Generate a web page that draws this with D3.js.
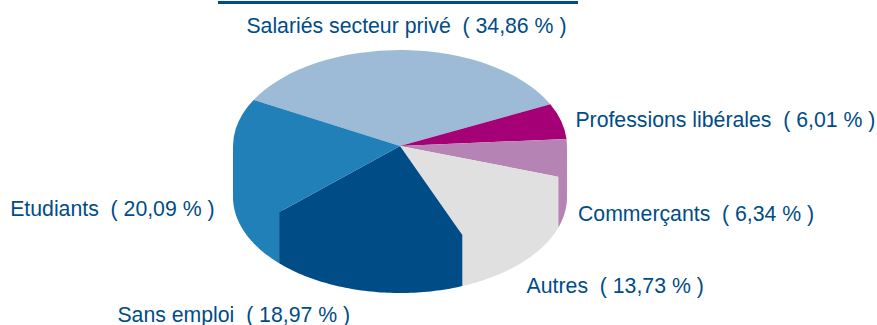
<!DOCTYPE html>
<html>
<head>
<meta charset="utf-8">
<script src="https://cdn.jsdelivr.net/npm/d3@7"></script>
<style>
  html, body { margin: 0; padding: 0; background: #fff; }
  svg { display: block; }
  .label { font-family: "Liberation Sans", Arial, sans-serif; font-size: 21.25px; fill: #004c87; white-space: pre; }
</style>
</head>
<body>
<svg id="chart"></svg>
<script>
const categories = ["Salariés secteur privé", "Professions libérales", "Commerçants", "Autres", "Sans emploi", "Etudiants"];
const shares = [34.86, 6.01, 6.34, 13.73, 18.97, 20.09];
const shareLabels = ["34,86", "6,01", "6,34", "13,73", "18,97", "20,09"];
const colors = ["#9dbbd7", "#a50075", "#b683b5", "#e0e0e0", "#004c87", "#2180b7"];

const svgWidth = 877;
const svgHeight = 325;
const cx = 400, cy = 146;    // centre of the top ellipse
const rx = 167, ry = 96;     // ellipse radii
const depth = 51;            // height of the wall
const firstAngle = -61.3 * Math.PI / 180; // first slice starts upper left

// Label anchors, same order as categories
const labelX = [246.4, 575.4, 578, 526.6, 117.4, 10.2];
const labelY = [32.5, 127, 221, 293, 322, 216];

const svg = d3.select("#chart")
  .attr("width", svgWidth)
  .attr("height", svgHeight);

// Rule at the top
svg.append("rect")
  .attr("x", 218)
  .attr("y", 1)
  .attr("width", 360)
  .attr("height", 3)
  .attr("fill", "#004c87");

const pie = d3.pie()
  .value(d => d)
  .sort(null)
  .startAngle(firstAngle)
  .endAngle(firstAngle + 2 * Math.PI);

const slices = pie(shares);

// Angles are clockwise from north, like d3.arc
const pointAt = (angle, dy, k = 1) => [cx + k * rx * Math.sin(angle), cy - k * ry * Math.cos(angle) + dy];

// Only the part of the rim facing the viewer (east to west through south) gets a wall.
// The upper edge runs a little inside the rim so the top face hides the seam.
function wallPath(slice) {
  const front = [Math.PI / 2, 3 * Math.PI / 2];
  const shifts = [0, 2 * Math.PI, -2 * Math.PI];
  for (const shift of shifts) {
    const a0 = Math.max(slice.startAngle + shift, front[0]);
    const a1 = Math.min(slice.endAngle + shift, front[1]);
    if (a1 > a0) {
      const steps = d3.range(0, 61).map(i => a0 + (a1 - a0) * i / 60);
      const inner = steps.map(a => pointAt(a, 0, 0.97));
      const lower = steps.slice().reverse().map(a => pointAt(a, depth));
      return d3.line()(inner.concat([pointAt(a1, 0)], lower, [pointAt(a0, 0)])) + "Z";
    }
  }
  return null;
}

const walls = svg.append("g");
walls.selectAll("path")
  .data(slices.filter(s => wallPath(s)))
  .enter().append("path")
  .attr("d", wallPath)
  .attr("fill", s => colors[s.index]);

// Top face: unit circle arcs squashed into the ellipse
const arc = d3.arc().innerRadius(0).outerRadius(1);
const topFace = svg.append("g")
  .attr("transform", "translate(" + cx + "," + cy + ") scale(" + rx + "," + ry + ")");

topFace.selectAll("path")
  .data(slices)
  .enter().append("path")
  .attr("d", arc)
  .attr("fill", s => colors[s.index]);

svg.selectAll(".label")
  .data(categories)
  .enter().append("text")
  .attr("class", "label")
  .attr("x", (d, i) => labelX[i])
  .attr("y", (d, i) => labelY[i])
  .text((d, i) => d + "  ( " + shareLabels[i] + " % )");
</script>
</body>
</html>
